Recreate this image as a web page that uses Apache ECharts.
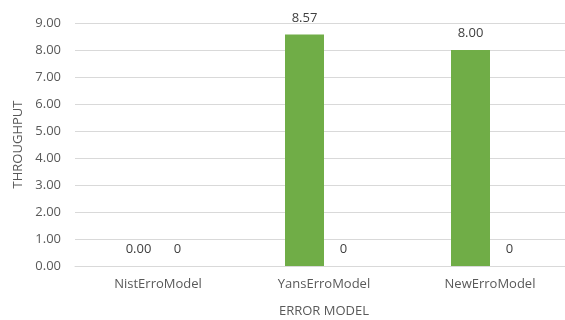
<!DOCTYPE html>
<html>
<head>
<meta charset="utf-8">
<style>
  html, body { margin: 0; padding: 0; background: #fff; }
  #chart { width: 565px; height: 320px; }
</style>
<script src="https://cdn.jsdelivr.net/npm/echarts@6/dist/echarts.min.js"></script>
</head>
<body>
<div id="chart"></div>
<script>
// Throughput per error model
const categories = ['NistErroModel', 'YansErroModel', 'NewErroModel'];
const throughputValues = [0.00, 8.57, 8.00];
const secondValues = [0, 0, 0];
const yTicks = { min: 0, max: 9, interval: 1 };

const FONT = 'Open Sans';
const TEXT = '#595959';
const GRID = '#d9d9d9';

const chart = echarts.init(document.getElementById('chart'), null, { renderer: 'canvas' });
chart.setOption({
  animation: false,
  textStyle: { fontFamily: FONT },
  grid: {
    left: 75, top: 23, width: 498, height: 243,
    containLabel: false, outerBoundsMode: 'none'
  },
  xAxis: {
    type: 'category',
    data: categories,
    name: 'ERROR MODEL',
    nameLocation: 'middle',
    nameGap: 39,
    nameTextStyle: { color: TEXT, fontSize: 13, fontFamily: FONT },
    axisLine: { lineStyle: { color: GRID, width: 1 } },
    axisTick: { show: false },
    axisLabel: { color: TEXT, fontSize: 13, margin: 12, fontFamily: FONT }
  },
  yAxis: {
    type: 'value',
    min: yTicks.min,
    max: yTicks.max,
    interval: yTicks.interval,
    name: 'THROUGHPUT',
    nameLocation: 'middle',
    nameGap: 48,
    nameRotate: 90,
    nameTextStyle: { color: TEXT, fontSize: 13, fontFamily: FONT },
    axisLine: { show: false },
    axisTick: { show: false },
    axisLabel: {
      color: TEXT, fontSize: 13, margin: 14, fontFamily: FONT,
      formatter: v => v.toFixed(2)
    },
    splitLine: { lineStyle: { color: GRID, width: 1 } }
  },
  series: [
    {
      name: 'Throughput',
      type: 'bar',
      data: throughputValues,
      barWidth: 39,
      barGap: '0%',
      itemStyle: { color: '#70AD47' },
      label: {
        show: true, position: 'top', distance: 10,
        color: '#404040', fontSize: 13, fontFamily: FONT,
        formatter: p => p.value.toFixed(2)
      }
    },
    {
      name: 'Series 2',
      type: 'bar',
      data: secondValues,
      barWidth: 39,
      barGap: '0%',
      itemStyle: { color: '#4472C4' },
      label: {
        show: true, position: 'top', distance: 10,
        color: '#404040', fontSize: 13, fontFamily: FONT,
        formatter: p => String(p.value)
      }
    }
  ]
});
</script>
</body>
</html>
